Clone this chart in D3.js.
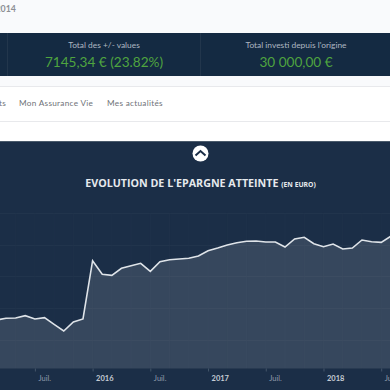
<!DOCTYPE html>
<html><head><meta charset="utf-8">
<script src="https://cdn.jsdelivr.net/npm/d3@7/dist/d3.min.js"></script>
<style>html,body{margin:0;padding:0;background:#fff;overflow:hidden}svg{display:block}</style>
</head><body><svg id="c" width="390" height="390"></svg>
<script>
const months=["2015-03","2015-04","2015-05","2015-06","2015-07","2015-08","2015-09","2015-10","2015-11","2015-12","2016-01","2016-02","2016-03","2016-04","2016-05","2016-06","2016-07","2016-08","2016-09","2016-10","2016-11","2016-12","2017-01","2017-02","2017-03","2017-04","2017-05","2017-06","2017-07","2017-08","2017-09","2017-10","2017-11","2017-12","2018-01","2018-02","2018-03","2018-04","2018-05","2018-06","2018-07","2018-08"];
const values=[13600,14090,14175,14830,13895,14260,12400,10525,13050,13895,30260,26440,26160,28125,28855,29530,27285,29980,30540,30740,30930,31600,33070,33825,34670,35310,35700,35790,35510,35510,34100,36350,36830,35030,34190,34950,33540,33825,36070,35590,35420,37145];
const tickDates=["2015-07","2016-01","2016-07","2017-01","2017-07","2018-01","2018-07"];
const tickLabels=["Juil.","2016","Juil.","2017","Juil.","2018","Juil."];
const gridValues=[8000,17000,26000,34700,43700];
const gridMonths=[-10,-8,-6,-4,-2,0,2,4,6,8,10,12,14,16,18,20,22,24,26,28,30,32];
const stats=[{label:"Total des +/- values",value:"7145,34 € (23.82%)"},{label:"Total investi depuis l'origine",value:"30 000,00 €"}];
const navItems=["ts","Mon Assurance Vie","Mes actualités"];

const svg=d3.select("#c");
const font="Lato, 'Open Sans', sans-serif";
const parse=d3.timeParse("%Y-%m");
const x=d3.scaleLinear().domain([0,1]).range([92.6,92.6+9.62]);
const ix=d=>{const p=parse(d);return (p.getFullYear()-2016)*12+p.getMonth()};
const y=d3.scaleLinear().domain([0,40000]).range([368.5,226]);

svg.append("rect").attr("width",390).attr("height",390).attr("fill","#fff");
svg.append("rect").attr("width",390).attr("height",33).attr("fill","#f9fafc");
svg.append("text").attr("x",-4.5).attr("y",12).attr("font-family",font).attr("font-size",8.8).attr("font-weight",700).attr("fill","#8d8f95").text("2014");
svg.append("rect").attr("y",33).attr("width",390).attr("height",43).attr("fill","#142a42");
svg.append("rect").attr("y",76).attr("width",390).attr("height",10).attr("fill","#f9fafc");
[7.5,200.5].forEach(v=>svg.append("line").attr("x1",v).attr("x2",v).attr("y1",33).attr("y2",76).attr("stroke","#22364c"));
stats.forEach((s,i)=>{const cx=[104,296][i];
 svg.append("text").attr("x",cx).attr("y",47.5).attr("text-anchor","middle").attr("font-family",font).attr("font-size",8.4).attr("fill","#aeb7c1").text(s.label);
 svg.append("text").attr("x",cx).attr("y",66.5).attr("text-anchor","middle").attr("font-family",font).attr("font-size",13.6).attr("font-weight",400).attr("fill","#4fa43f").text(s.value);
});
svg.append("line").attr("x1",0).attr("x2",390).attr("y1",86.5).attr("y2",86.5).attr("stroke","#e8e9ec");
svg.append("line").attr("x1",0).attr("x2",390).attr("y1",121.5).attr("y2",121.5).attr("stroke","#e8e9ec");
[[-1],[19],[107]].forEach((p,i)=>svg.append("text").attr("x",p[0]).attr("y",106).attr("font-family",font).attr("font-size",8.2).attr("letter-spacing",0.3).attr("fill","#6f7278").text(navItems[i]));

svg.append("rect").attr("y",141).attr("width",390).attr("height",249).attr("fill","#1b2e47");
svg.append("line").attr("x1",0).attr("x2",390).attr("y1",141.5).attr("y2",141.5).attr("stroke","#4a5a6b");
svg.append("circle").attr("cx",200.5).attr("cy",153.5).attr("r",8).attr("fill","#fff");
svg.append("path").attr("d","M195.5 155.5L200.5 151L205.5 155.5").attr("fill","none").attr("stroke","#1b2e47").attr("stroke-width",2);
const t=svg.append("text").attr("x",200.5).attr("y",186.5).attr("text-anchor","middle").attr("font-family","'Open Sans', Lato, sans-serif").attr("font-weight",700).attr("font-size",10.7).attr("fill","#e6e9ed");
t.append("tspan").text("EVOLUTION DE L'EPARGNE ATTEINTE ");
t.append("tspan").attr("font-size",6.8).text("(EN EURO)");

const g=svg.append("g").attr("stroke","#21344c").attr("stroke-width",1);
gridValues.forEach(v=>g.append("line").attr("x1",0).attr("x2",390).attr("y1",Math.round(y(v))+.5).attr("y2",Math.round(y(v))+.5));
gridMonths.forEach(m=>g.append("line").attr("x1",x(m)).attr("x2",x(m)).attr("y1",y(43700)).attr("y2",y(0)).attr("stroke-opacity",.5));
const pts=months.map((m,i)=>({i:ix(m),v:values[i]}));
svg.append("path").datum(pts).attr("fill","#fff").attr("fill-opacity",.12)
 .attr("d",d3.area().x(d=>x(d.i)).y0(y(0)).y1(d=>y(d.v)));
svg.append("path").datum(pts).attr("fill","none").attr("stroke","#dfe4e9").attr("stroke-width",1.6)
 .attr("d",d3.line().x(d=>x(d.i)).y(d=>y(d.v)));
const ax=svg.append("g").attr("transform",`translate(0,${y(0)})`)
 .call(d3.axisBottom(x).tickValues(tickDates.map(ix)).tickSize(3).tickFormat((d,i)=>tickLabels[i]));
ax.select(".domain").remove();
ax.selectAll("line").attr("stroke","#44566a");
ax.selectAll("text").attr("text-anchor","start").attr("dx","3px").attr("dy","0.9em").attr("font-family",font).attr("font-size",7.5)
 .attr("fill",(d,i)=>i%2?"#c5ccd4":"#8f9bab").attr("font-weight",(d,i)=>i%2?700:400);
</script></body></html>
